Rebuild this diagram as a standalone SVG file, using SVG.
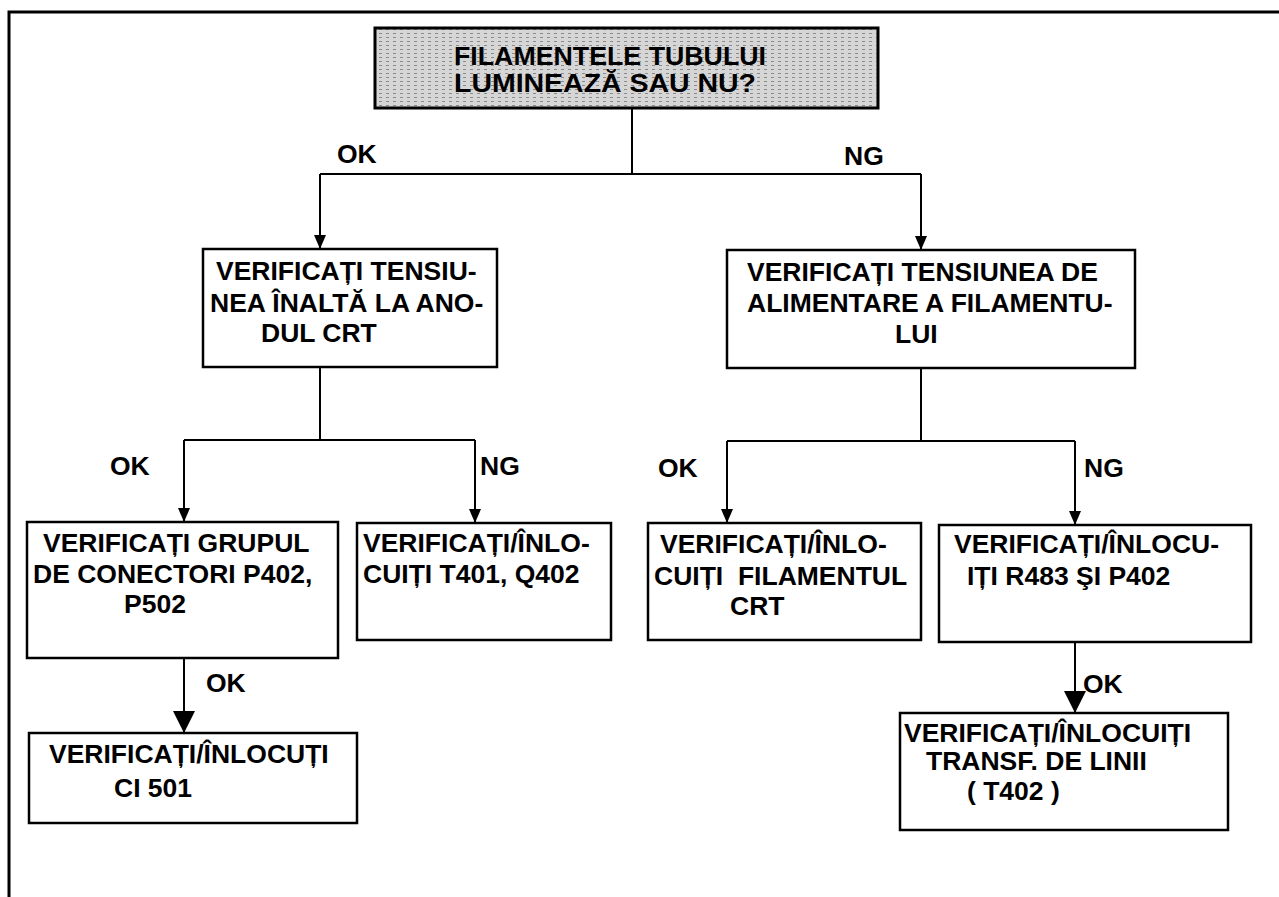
<svg xmlns="http://www.w3.org/2000/svg" width="1279" height="897" viewBox="0 0 1279 897">
<style>
  .box { fill: #ffffff; stroke: #000; stroke-width: 2.5; }
  .t { font-family: "Liberation Sans", Arial, sans-serif; font-weight: bold; font-size: 26.5px; fill: #000; white-space: pre; }
  .tt { font-family: "Liberation Sans", Arial, sans-serif; font-weight: bold; font-size: 26px; fill: #000; }
  .ln { fill: none; stroke: #000; stroke-width: 2; }
</style>
<defs>
  <pattern id="gray" width="7" height="4" patternUnits="userSpaceOnUse">
    <rect width="7" height="4" fill="#d6d6d6"/>
    <rect x="1" y="1" width="3" height="1" fill="#8a8a8a"/>
  </pattern>
  <marker id="arr" markerUnits="userSpaceOnUse" viewBox="0 -6 14 12" markerWidth="14" markerHeight="12" refX="14" refY="0" orient="auto">
    <path d="M0,-6 L14,0 L0,6 z" fill="#000"/>
  </marker>
  <marker id="arrBig" markerUnits="userSpaceOnUse" viewBox="0 -11 22 22" markerWidth="22" markerHeight="22" refX="22" refY="0" orient="auto">
    <path d="M0,-11 L22,0 L0,11 z" fill="#000"/>
  </marker>
</defs>
<rect width="1279" height="897" fill="#fff"/>
<g id="frame">
  <path d="M9,897 V12 H1279" fill="none" stroke="#000" stroke-width="3"/>
</g>
<g id="connectors">
  <path class="ln" d="M632,108 V174"/>
  <path class="ln" d="M320,174 H921"/>
  <path class="ln" d="M320,174 V249" marker-end="url(#arr)"/>
  <path class="ln" d="M921,174 V250" marker-end="url(#arr)"/>
  <path class="ln" d="M320,367 V440"/>
  <path class="ln" d="M184,440 H475"/>
  <path class="ln" d="M184,440 V522" marker-end="url(#arr)"/>
  <path class="ln" d="M475,440 V523" marker-end="url(#arr)"/>
  <path class="ln" d="M921,368 V441"/>
  <path class="ln" d="M727,441 H1075"/>
  <path class="ln" d="M727,441 V523" marker-end="url(#arr)"/>
  <path class="ln" d="M1075,441 V525" marker-end="url(#arr)"/>
  <path class="ln" d="M184,658 V733" marker-end="url(#arrBig)"/>
  <path class="ln" d="M1075,642 V713" marker-end="url(#arrBig)"/>
  <text class="t" x="337" y="163">OK</text>
  <text class="t" x="844" y="165">NG</text>
  <text class="t" x="110" y="475">OK</text>
  <text class="t" x="480" y="475">NG</text>
  <text class="t" x="658" y="477">OK</text>
  <text class="t" x="1084" y="477">NG</text>
  <text class="t" x="206" y="692">OK</text>
  <text class="t" x="1083" y="693">OK</text>
</g>
<g id="n-top">
  <rect x="375" y="28" width="503" height="80" fill="url(#gray)" stroke="#000" stroke-width="3"/>
  <text class="tt" x="454" y="65" textLength="312" lengthAdjust="spacingAndGlyphs">FILAMENTELE TUBULUI</text>
  <text class="tt" x="454" y="92" textLength="302" lengthAdjust="spacingAndGlyphs">LUMINEAZĂ SAU NU?</text>
</g>
<g id="n-a">
  <rect class="box" x="203" y="249" width="294" height="118"/>
  <text class="t" x="216" y="280">VERIFICAȚI TENSIU-</text>
  <text class="t" x="210" y="312">NEA ÎNALTĂ LA ANO-</text>
  <text class="t" x="261" y="342">DUL CRT</text>
</g>
<g id="n-b">
  <rect class="box" x="727" y="250" width="408" height="118"/>
  <text class="t" x="747" y="281">VERIFICAȚI TENSIUNEA DE</text>
  <text class="t" x="747" y="312">ALIMENTARE A FILAMENTU-</text>
  <text class="t" x="895" y="343">LUI</text>
</g>
<g id="n-c">
  <rect class="box" x="27" y="522" width="311" height="136"/>
  <text class="t" x="43" y="552">VERIFICAȚI GRUPUL</text>
  <text class="t" x="33" y="583">DE CONECTORI P402,</text>
  <text class="t" x="124" y="613">P502</text>
</g>
<g id="n-d">
  <rect class="box" x="357" y="523" width="254" height="117"/>
  <text class="t" x="363" y="552">VERIFICAȚI/ÎNLO-</text>
  <text class="t" x="363" y="583">CUIȚI T401, Q402</text>
</g>
<g id="n-e">
  <rect class="box" x="648" y="523" width="273" height="117"/>
  <text class="t" x="660" y="553">VERIFICAȚI/ÎNLO-</text>
  <text class="t" x="654" y="585">CUIȚI  FILAMENTUL</text>
  <text class="t" x="730" y="615">CRT</text>
</g>
<g id="n-f">
  <rect class="box" x="939" y="525" width="312" height="117"/>
  <text class="t" x="954" y="553">VERIFICAȚI/ÎNLOCU-</text>
  <text class="t" x="967" y="585">IȚI R483 ŞI P402</text>
</g>
<g id="n-g">
  <rect class="box" x="29" y="733" width="328" height="90"/>
  <text class="t" x="49" y="763">VERIFICAȚI/ÎNLOCUȚI</text>
  <text class="t" x="114" y="797">CI 501</text>
</g>
<g id="n-h">
  <rect class="box" x="900" y="713" width="328" height="117"/>
  <text class="t" x="904" y="742">VERIFICAȚI/ÎNLOCUIȚI</text>
  <text class="t" x="926" y="770">TRANSF. DE LINII</text>
  <text class="t" x="967" y="800">( T402 )</text>
</g>
</svg>
